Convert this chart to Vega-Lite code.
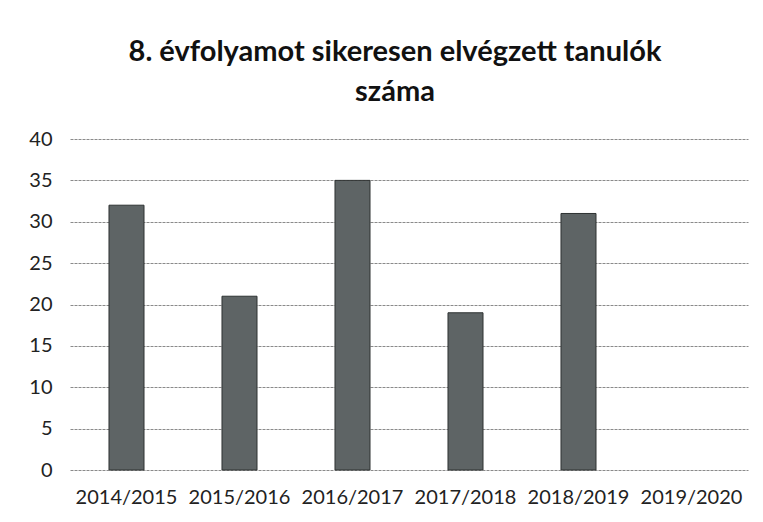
{
  "$schema": "https://vega.github.io/schema/vega-lite/v6.json",
  "width": 678,
  "height": 331,
  "autosize": {"type": "none"},
  "padding": {"left": 70, "top": 139, "right": 15, "bottom": 52},
  "background": "white",
  "title": {
    "text": ["8. évfolyamot sikeresen elvégzett tanulók", "száma"],
    "font": "Lato",
    "fontSize": 29,
    "fontWeight": "bold",
    "color": "#111111",
    "anchor": "middle",
    "dx": -14,
    "offset": 22,
    "lineHeight": 40
  },
  "data": {
    "values": [
      {"ev": "2014/2015", "fo": 32},
      {"ev": "2015/2016", "fo": 21},
      {"ev": "2016/2017", "fo": 35},
      {"ev": "2017/2018", "fo": 19},
      {"ev": "2018/2019", "fo": 31},
      {"ev": "2019/2020", "fo": null}
    ]
  },
  "mark": {"type": "bar", "color": "#5e6465", "stroke": "#2e3232", "strokeWidth": 1},
  "encoding": {
    "x": {
      "field": "ev",
      "type": "nominal",
      "sort": null,
      "title": null,
      "scale": {
        "domain": ["2014/2015", "2015/2016", "2016/2017", "2017/2018", "2018/2019", "2019/2020"],
        "paddingInner": 0.69,
        "paddingOuter": 0.345
      },
      "axis": {
        "labelAngle": 0,
        "labelFont": "Lato",
        "labelFontSize": 20,
        "labelColor": "#222222",
        "labelPadding": 17,
        "ticks": false,
        "domain": false
      }
    },
    "y": {
      "field": "fo",
      "type": "quantitative",
      "title": null,
      "scale": {"domain": [0, 40]},
      "axis": {
        "values": [0, 5, 10, 15, 20, 25, 30, 35, 40],
        "labelFont": "Lato",
        "labelFontSize": 20,
        "labelColor": "#222222",
        "labelPadding": 18,
        "ticks": false,
        "domain": false,
        "gridColor": "#8a8a8a",
        "gridWidth": 1,
        "gridDash": [3, 1]
      }
    }
  },
  "config": {"view": {"stroke": null}}
}
